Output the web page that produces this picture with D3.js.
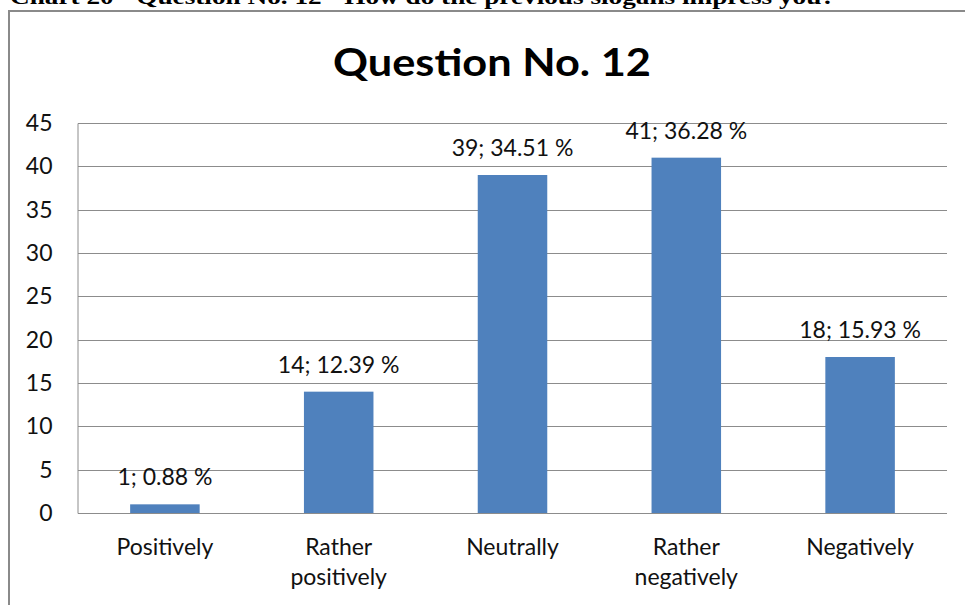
<!DOCTYPE html>
<html>
<head>
<meta charset="utf-8">
<script src="https://cdn.jsdelivr.net/npm/d3@7"></script>
<style>
  html, body { margin: 0; padding: 0; background: #fff; }
  svg { display: block; }
</style>
</head>
<body>
<svg id="chart" width="965" height="605"></svg>
<script>
// Survey answers for question 12
const categories = [["Positively"], ["Rather", "positively"], ["Neutrally"], ["Rather", "negatively"], ["Negatively"]];
const counts = [1, 14, 39, 41, 18];
const percents = ["0.88", "12.39", "34.51", "36.28", "15.93"];
const yTicks = [0, 5, 10, 15, 20, 25, 30, 35, 40, 45];

const svg = d3.select("#chart");
const labelFont = "Lato, 'Open Sans', sans-serif";
const labelSize = 23;

// Document caption above the chart frame (partly clipped by the page top)
svg.append("text")
  .attr("x", 10).attr("y", 4)
  .attr("font-family", "'Liberation Serif', 'Times New Roman', serif")
  .attr("font-weight", "bold")
  .attr("font-size", 21)
  .attr("textLength", 825)
  .attr("lengthAdjust", "spacingAndGlyphs")
  .attr("fill", "#000")
  .text("Chart 20 - Question No. 12 - How do the previous slogans impress you?");

// Chart frame (top and left edges visible)
svg.append("path")
  .attr("d", "M9,605 V11 H965")
  .attr("fill", "none")
  .attr("stroke", "#8a8a8a")
  .attr("stroke-width", 2);

// Chart title
svg.append("text")
  .attr("x", 492).attr("y", 76)
  .attr("text-anchor", "middle")
  .attr("font-family", labelFont)
  .attr("font-weight", "bold")
  .attr("font-size", 38)
  .attr("textLength", 318)
  .attr("lengthAdjust", "spacingAndGlyphs")
  .attr("fill", "#000")
  .text("Question No. 12");

const plot = { left: 78, right: 947, top: 123, bottom: 513 };

const x = d3.scaleBand()
  .domain(d3.range(categories.length))
  .range([plot.left, plot.right])
  .paddingInner(0.6)
  .paddingOuter(0.3);

const y = d3.scaleLinear()
  .domain([0, 45])
  .range([plot.bottom, plot.top]);

// Horizontal gridlines
svg.append("g")
  .selectAll("line")
  .data(yTicks)
  .join("line")
  .attr("x1", plot.left).attr("x2", plot.right)
  .attr("y1", d => Math.round(y(d)) + 0.5)
  .attr("y2", d => Math.round(y(d)) + 0.5)
  .attr("stroke", "#8c8c8c")
  .attr("stroke-width", 1);

// Y axis with labels only
const yAxis = svg.append("g")
  .attr("transform", `translate(${plot.left - 0.5},0)`)
  .call(d3.axisLeft(y).tickValues(yTicks).tickSize(0).tickPadding(25));
yAxis.select(".domain").attr("stroke", "#8c8c8c");
yAxis.selectAll("text")
  .attr("font-family", labelFont)
  .attr("font-size", labelSize)
  .attr("fill", "#111");

// Bars
svg.append("g")
  .selectAll("rect")
  .data(counts)
  .join("rect")
  .attr("x", (d, i) => x(i))
  .attr("width", x.bandwidth())
  .attr("y", d => y(d))
  .attr("height", d => y(0) - y(d))
  .attr("fill", "#4f81bd");

// Value labels
svg.append("g")
  .selectAll("text")
  .data(counts)
  .join("text")
  .attr("x", (d, i) => x(i) + x.bandwidth() / 2)
  .attr("y", d => y(d) - 19)
  .attr("text-anchor", "middle")
  .attr("font-family", labelFont)
  .attr("font-size", labelSize)
  .attr("fill", "#111")
  .text((d, i) => `${d}; ${percents[i]} %`);

// Category labels
const catG = svg.append("g")
  .selectAll("text")
  .data(categories)
  .join("text")
  .attr("x", (d, i) => x(i) + x.bandwidth() / 2)
  .attr("y", 555)
  .attr("text-anchor", "middle")
  .attr("font-family", labelFont)
  .attr("font-size", labelSize)
  .attr("fill", "#111");
catG.selectAll("tspan")
  .data(d => d)
  .join("tspan")
  .attr("x", function () { return d3.select(this.parentNode).attr("x"); })
  .attr("dy", (d, j) => j === 0 ? 0 : 30)
  .text(d => d);
</script>
</body>
</html>
